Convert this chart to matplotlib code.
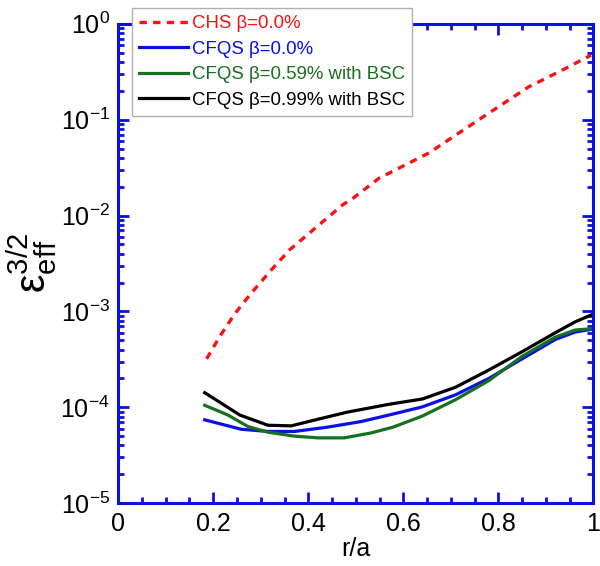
import matplotlib
matplotlib.use("Agg")
from matplotlib import pyplot as plt
from matplotlib.ticker import FixedLocator, FixedFormatter, LogLocator, NullFormatter, MultipleLocator
import numpy as np

plt.rcParams['font.family'] = ['Liberation Sans', 'DejaVu Sans']
plt.rcParams['mathtext.fontset'] = 'custom'
plt.rcParams['mathtext.rm'] = 'Liberation Sans'
plt.rcParams['mathtext.it'] = 'Liberation Sans'

# CHS beta=0.0%
r_chs = [0.186, 0.214, 0.245, 0.28, 0.319, 0.361, 0.406, 0.448, 0.472, 0.493, 0.549,
         0.654, 0.759, 0.864, 0.93, 0.995]
eps_chs = [3.2e-4, 5.5e-4, 9.4e-4, 1.55e-3, 2.6e-3, 4.4e-3, 6.8e-3, 0.0102, 0.0129, 0.015, 0.0245,
           0.045, 0.1, 0.22, 0.32, 0.47]

# CFQS beta=0.0%
r_b0 = [0.182, 0.259, 0.315, 0.371, 0.44, 0.511, 0.574, 0.64, 0.71, 0.78, 0.85, 0.92, 0.962, 0.996]
eps_b0 = [7.4e-5, 5.9e-5, 5.6e-5, 5.6e-5, 6.2e-5, 7.1e-5, 8.4e-5, 1.01e-4, 1.35e-4, 2.0e-4,
          3.2e-4, 5.1e-4, 6.1e-4, 6.5e-4]

# CFQS beta=0.59% with BSC
r_b059 = [0.182, 0.231, 0.273, 0.315, 0.371, 0.42, 0.476, 0.532, 0.578, 0.64, 0.71, 0.78,
          0.85, 0.92, 0.962, 0.996]
eps_b059 = [1.05e-4, 8.3e-5, 6.3e-5, 5.5e-5, 5.0e-5, 4.8e-5, 4.8e-5, 5.4e-5, 6.2e-5, 8.1e-5,
            1.2e-4, 1.9e-4, 3.4e-4, 5.4e-4, 6.4e-4, 6.6e-4]

# CFQS beta=0.99% with BSC
r_b099 = [0.182, 0.256, 0.315, 0.364, 0.42, 0.482, 0.572, 0.64, 0.71, 0.78, 0.85, 0.92,
          0.962, 0.996]
eps_b099 = [1.42e-4, 8.3e-5, 6.5e-5, 6.4e-5, 7.5e-5, 8.9e-5, 1.08e-4, 1.22e-4, 1.62e-4,
            2.45e-4, 3.8e-4, 6.0e-4, 7.8e-4, 9.2e-4]

labels = ['CHS β=0.0%', 'CFQS β=0.0%', 'CFQS β=0.59% with BSC', 'CFQS β=0.99% with BSC']
colors = ['#ff1010', '#0a10e6', '#16701e', '#000000']

y_ticks = [1e-5, 1e-4, 1e-3, 1e-2, 1e-1, 1e0]
y_ticklabels = [r'$\mathregular{10^{-5}}$', r'$\mathregular{10^{-4}}$', r'$\mathregular{10^{-3}}$',
                r'$\mathregular{10^{-2}}$', r'$\mathregular{10^{-1}}$', r'$\mathregular{10^{0}}$']
x_ticks = [0, 0.2, 0.4, 0.6, 0.8, 1]
x_ticklabels = ['0', '0.2', '0.4', '0.6', '0.8', '1']

fig = plt.figure(figsize=(6, 5.66), dpi=100)
ax = fig.add_axes([0.197, 0.111, 0.792, 0.847])

ax.plot(r_chs, eps_chs, color=colors[0], lw=2.4, ls=(0, (2.2, 1.9)), label=labels[0])
ax.plot(r_b0, eps_b0, color=colors[1], lw=2.3, label=labels[1])
ax.plot(r_b059, eps_b059, color=colors[2], lw=2.3, label=labels[2])
ax.plot(r_b099, eps_b099, color=colors[3], lw=2.3, label=labels[3])

ax.set_yscale('log')
ax.set_xlim(0, 1)
ax.set_ylim(1e-5, 1)

ax.xaxis.set_major_locator(FixedLocator(x_ticks))
ax.xaxis.set_major_formatter(FixedFormatter(x_ticklabels))
ax.xaxis.set_minor_locator(MultipleLocator(0.05))
ax.yaxis.set_major_locator(FixedLocator(y_ticks))
ax.yaxis.set_major_formatter(FixedFormatter(y_ticklabels))
ax.yaxis.set_minor_locator(LogLocator(base=10, subs=np.arange(2, 10), numticks=20))
ax.yaxis.set_minor_formatter(NullFormatter())

for s in ax.spines.values():
    s.set_color('#0a10e6')
    s.set_linewidth(2.2)
ax.tick_params(which='both', direction='in', top=True, right=True, color='#0a10e6',
               labelcolor='black', labelsize=18, width=2)
ax.tick_params(which='major', length=8, pad=6)
ax.tick_params(which='minor', length=4)

ax.set_xlabel('r/a', fontsize=18, labelpad=1)
ax.set_ylabel(r'$\mathregular{ε_{eff}^{3/2}}$', fontsize=30)
ax.yaxis.set_label_coords(-0.125, 0.5)

leg = fig.legend(loc='upper left', bbox_to_anchor=(0.22, 0.986), fontsize=13.4,
                 frameon=True, fancybox=False, edgecolor='#b0b0b0', framealpha=1,
                 handlelength=2.6, handletextpad=0.2, labelspacing=0.45, borderpad=0.4,
                 borderaxespad=0)
leg.get_frame().set_linewidth(1.0)
for txt, c in zip(leg.get_texts(), colors):
    txt.set_color(c)

fig.savefig('out.png', dpi=100)
